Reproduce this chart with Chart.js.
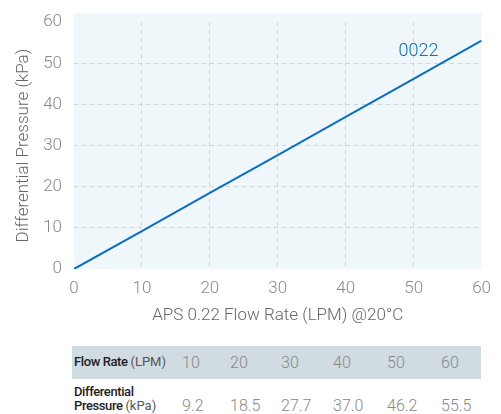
<!DOCTYPE html>
<html>
<head>
<meta charset="utf-8">
<script src="https://cdn.jsdelivr.net/npm/chart.js@4"></script>
<style>
  body { margin: 0; background: #fff; font-family: Roboto, "Liberation Sans", sans-serif; }
  #wrap { position: relative; width: 501px; height: 330px; }
  #tbl { position: absolute; left: 72px; top: 346px; width: 409px; }
  .row { position: relative; height: 33px; }
  .head { background: #d0dce1; }
  .lab { position: absolute; left: 2px; color: #1e1e1e; font-size: 13px; font-weight: 500; letter-spacing: -0.4px; }
  .lab span { font-weight: 400; color: #555; letter-spacing: 0; }
  .val { position: absolute; color: #888; font-size: 16px; font-weight: 300; }
</style>
</head>
<body>
<div id="wrap"><canvas id="chart"></canvas></div>
<div id="tbl"></div>
<script>
// values
const flowRate = [0, 10, 20, 30, 40, 50, 60];
const pressure = [0, 9.2, 18.5, 27.7, 37.0, 46.2, 55.5];
const tableFlow = ['10', '20', '30', '40', '50', '60'];
const tablePressure = ['9.2', '18.5', '27.7', '37.0', '46.2', '55.5'];
const seriesName = '0022';

const ctx = document.getElementById('chart').getContext('2d');

// light blue plot background + series label
const plotBg = {
  id: 'plotBg',
  beforeDraw(chart) {
    const { ctx, chartArea: a } = chart;
    ctx.save();
    ctx.fillStyle = '#eff7fb';
    ctx.fillRect(a.left, a.top - 9, a.right - a.left, a.bottom - a.top + 9);
    ctx.restore();
  },
  afterDatasetsDraw(chart) {
    const { ctx, scales } = chart;
    ctx.save();
    ctx.fillStyle = '#0a6ebd';
    ctx.font = '300 18px Roboto, sans-serif';
    ctx.textAlign = 'center';
    ctx.textBaseline = 'middle';
    ctx.fillText(seriesName, scales.x.getPixelForValue(50.7), scales.y.getPixelForValue(52.9));
    ctx.restore();
  }
};

const gridColor = (c) => (c.tick.value === 0 || c.tick.value === 60) ? 'rgba(0,0,0,0)' : '#c9d6dc';

new Chart(ctx, {
  type: 'line',
  data: {
    datasets: [{
      label: seriesName,
      data: flowRate.map((x, i) => ({ x: x, y: pressure[i] })),
      borderColor: '#0a6ebd',
      borderWidth: 2,
      pointRadius: 0,
      fill: false,
    }]
  },
  options: {
    responsive: true,
    maintainAspectRatio: false,
    animation: false,
    layout: { padding: { top: 6, right: 19, left: 0, bottom: 0 } },
    plugins: { legend: { display: false }, tooltip: { enabled: false } },
    scales: {
      x: {
        type: 'linear', min: 0, max: 60,
        ticks: { stepSize: 10, color: '#888', padding: 10, font: { family: 'Roboto', size: 17, weight: 300 } },
        grid: { color: gridColor, drawTicks: false, tickLength: 0 },
        border: { display: false, dash: [4, 4] },
        title: { display: true, text: 'APS 0.22 Flow Rate (LPM) @20°C', color: '#666', padding: { top: 7 },
                 font: { family: 'Roboto', size: 17, weight: 300 } },
        afterFit(s) { s.height = 61; }
      },
      y: {
        min: 0, max: 60,
        ticks: { stepSize: 10, color: '#888', padding: 12, font: { family: 'Roboto', size: 17, weight: 300 } },
        grid: { color: gridColor, drawTicks: false, tickLength: 0 },
        border: { display: false, dash: [4, 4] },
        title: { display: true, text: 'Differential Pressure (kPa)', color: '#666', padding: { top: 14 },
                 font: { family: 'Roboto', size: 17, weight: 300 } },
        afterFit(s) { s.width = 74; }
      }
    }
  },
  plugins: [plotBg]
});

// data table under the chart
const colLeft = [110, 158, 209, 261, 315, 369];
function buildRow(cls, labelHtml, labelTop, vals) {
  const row = document.createElement('div');
  row.className = 'row ' + cls;
  row.innerHTML = '<div class="lab" style="top:' + labelTop + 'px">' + labelHtml + '</div>' +
    vals.map((v, i) => '<div class="val" style="left:' + colLeft[i] + 'px;top:7px">' + v + '</div>').join('');
  return row;
}
const tbl = document.getElementById('tbl');
tbl.appendChild(buildRow('head', 'Flow Rate <span>(LPM)</span>', 8, tableFlow));
const r2 = buildRow('', 'Differential<br>Pressure <span>(kPa)</span>', 6, tablePressure);
r2.querySelectorAll('.val').forEach(v => v.style.top = '17px');
r2.querySelector('.lab').style.lineHeight = '14px';
tbl.appendChild(r2);
</script>
</body>
</html>
